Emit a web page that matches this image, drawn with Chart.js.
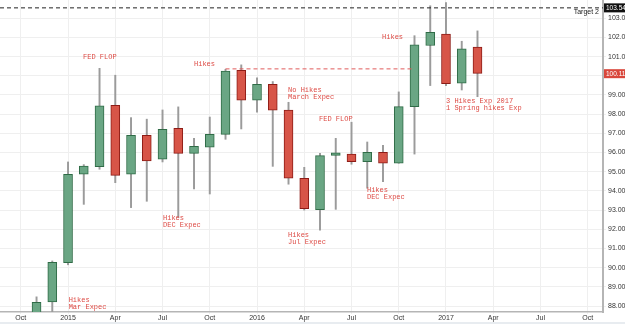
<!DOCTYPE html>
<html>
<head>
<meta charset="utf-8">
<script src="https://cdn.jsdelivr.net/npm/chart.js@4/dist/chart.umd.min.js"></script>
<style>
html,body{margin:0;padding:0;background:#fff;}
#wrap{width:625px;height:324px;position:relative;}
</style>
</head>
<body>
<div id="wrap"><canvas id="c" width="625" height="324"></canvas></div>
<script>
// ---- data (monthly candles, US Dollar Index) ----
const months = ['2014-11','2014-12','2015-01','2015-02','2015-03','2015-04','2015-05','2015-06','2015-07','2015-08','2015-09','2015-10','2015-11','2015-12','2016-01','2016-02','2016-03','2016-04','2016-05','2016-06','2016-07','2016-08','2016-09','2016-10','2016-11','2016-12','2017-01','2017-02','2017-03'];
const opens  = [87.20, 88.21, 90.26, 94.87, 95.26, 98.46, 94.87, 96.90, 95.65, 97.26, 95.96, 96.28, 96.95, 100.29, 98.73, 99.56, 98.21, 94.66, 93.02, 95.85, 95.92, 95.52, 96.01, 95.44, 98.39, 101.58, 102.18, 99.61, 101.49];
const highs  = [88.48, 90.35, 95.51, 95.37, 100.39, 100.03, 97.82, 97.74, 98.22, 98.38, 96.74, 97.85, 100.34, 100.57, 99.90, 99.70, 98.62, 95.23, 95.96, 96.74, 97.58, 96.55, 96.38, 99.16, 102.09, 103.65, 103.82, 101.80, 102.34];
const lows   = [86.90, 87.60, 90.15, 93.30, 95.13, 94.43, 93.13, 93.46, 95.51, 92.62, 94.10, 93.84, 96.69, 97.23, 98.10, 95.28, 94.35, 93.00, 91.96, 93.04, 95.39, 94.14, 94.48, 95.44, 95.92, 99.49, 99.49, 99.26, 98.91];
const closes = [88.19, 90.28, 94.87, 95.30, 98.43, 94.81, 96.90, 95.56, 97.21, 95.96, 96.33, 96.95, 100.25, 98.73, 99.56, 98.21, 94.66, 93.07, 95.84, 95.99, 95.52, 96.01, 95.44, 98.39, 101.61, 102.27, 99.59, 101.40, 100.13];

const yTicks = [88,89,90,91,92,93,94,95,96,97,98,99,100,101,102,103];
const xTickMonths = ['2014-10','2015-01','2015-04','2015-07','2015-10','2016-01','2016-04','2016-07','2016-10','2017-01','2017-04','2017-07','2017-10'];
const xTickLabels = ['Oct','2015','Apr','Jul','Oct','2016','Apr','Jul','Oct','2017','Apr','Jul','Oct'];

const targetLevel = 103.54;
const targetName = 'Target 2';
const lastPrice = 100.11;
const hikesLevel = 100.36;
const hikesFrom = '2015-11';
const hikesTo = '2016-10';

// annotations: text lines anchored at (month, value)
const notes = [
  {lines:['FED FLOP'], at:'2015-01', dm:0.95, v:100.98},
  {lines:['Hikes'], at:'2015-09', dm:0.0, v:100.62},
  {lines:['No Hikes','March Expec'], at:'2016-03', dm:-0.03, v:99.26},
  {lines:['FED FLOP'], at:'2016-05', dm:-0.06, v:97.75},
  {lines:['Hikes','DEC Expec'], at:'2015-07', dm:0.03, v:92.59},
  {lines:['Hikes','Jul Expec'], at:'2016-03', dm:-0.03, v:91.70},
  {lines:['Hikes','DEC Expec'], at:'2016-08', dm:-0.02, v:94.05},
  {lines:['Hikes'], at:'2016-09', dm:-0.06, v:102.03},
  {lines:['3 Hikes Exp 2017','1 Spring hikes Exp'], at:'2017-01', dm:0.0, v:98.69},
  {lines:['Hikes','Mar Expec'], at:'2015-01', dm:0.04, v:88.30}
];

// ---- helpers ----
function mIdx(s){ const p = s.split('-'); return (parseInt(p[0])-2015)*12 + (parseInt(p[1])-1); }
const xs = months.map(mIdx);
const xTickVals = xTickMonths.map(mIdx);

const GREEN = '#6aa684', GREEN_B = '#2f6b46', RED = '#d75548', RED_B = '#8d1c16';
const isUp = closes.map((c,i)=> c >= opens[i]);

const wickData = xs.map((x,i)=>({x:x, y:[lows[i], highs[i]]}));
const bodyData = xs.map((x,i)=>({x:x, y:[opens[i], closes[i]]}));

const X_MIN = -4.32, X_MAX = 33.97;

const overlayPlugin = {
  id:'overlay',
  afterDatasetsDraw(chart){
    const ctx = chart.ctx, xS = chart.scales.x, yS = chart.scales.y, ca = chart.chartArea;
    ctx.save();
    ctx.fillStyle = '#dd4a44';
    ctx.font = '7px "Liberation Mono", "Courier New", monospace';
    ctx.textBaseline = 'middle';
    ctx.textAlign = 'left';
    notes.forEach(n=>{
      const px = xS.getPixelForValue(mIdx(n.at)+n.dm);
      const py = yS.getPixelForValue(n.v);
      n.lines.forEach((t,k)=> ctx.fillText(t, px, py + k*7));
    });
    const ty = yS.getPixelForValue(targetLevel);
    ctx.fillStyle = '#222';
    ctx.font = '7px "Liberation Sans", Arial, sans-serif';
    ctx.textAlign = 'right';
    ctx.fillText(targetName, ca.right - 4, ty + 4);
    ctx.restore();
  },
  afterDraw(chart){
    const ctx = chart.ctx, yS = chart.scales.y, ca = chart.chartArea;
    ctx.save();
    ctx.font = '6.5px "Liberation Sans", Arial, sans-serif';
    ctx.textBaseline = 'middle';
    ctx.textAlign = 'left';
    const boxes = [[targetLevel,'#111111'],[lastPrice,'#d9473c']];
    boxes.forEach(b=>{
      const y = yS.getPixelForValue(b[0]);
      ctx.fillStyle = b[1];
      ctx.fillRect(ca.right + 1, y - 4.5, 625 - ca.right - 1, 9);
      ctx.fillStyle = '#fff';
      ctx.fillText(b[0].toFixed(2), ca.right + 3, y + 0.5);
    });
    ctx.fillStyle = '#e8ecf0';
    ctx.fillRect(0, 322, 625, 2);
    ctx.restore();
  }
};

new Chart(document.getElementById('c'), {
  type:'bar',
  data:{
    datasets:[
      {type:'line', label:'target', data:[{x:X_MIN,y:targetLevel},{x:X_MAX,y:targetLevel}],
       borderColor:'#222', borderWidth:1, borderDash:[4,3], pointRadius:0, order:0},
      {type:'line', label:'hikes', data:[{x:mIdx(hikesFrom),y:hikesLevel},{x:mIdx(hikesTo)+0.85,y:hikesLevel}],
       borderColor:'#e05a5a', borderWidth:1, borderDash:[4,3], pointRadius:0, order:0},
      {label:'body', data:bodyData, barThickness:9, grouped:false,
       backgroundColor: isUp.map(u=>u?GREEN:RED), borderColor: isUp.map(u=>u?GREEN_B:RED_B),
       borderWidth:1, borderSkipped:false, order:1},
      {label:'wick', data:wickData, barThickness:1.3, grouped:false,
       backgroundColor:'#9b9b9b', borderWidth:0, order:2}
    ]
  },
  options:{
    responsive:false, animation:false,
    layout:{padding:0},
    plugins:{legend:{display:false}, tooltip:{enabled:false}},
    scales:{
      x:{type:'linear', min:X_MIN, max:X_MAX, offset:false,
         grid:{color:'#efefef', offset:false, tickLength:2, drawTicks:true},
         border:{color:'#b5b5b5', width:1.5},
         afterBuildTicks(s){ s.ticks = xTickVals.map(v=>({value:v})); },
         afterFit(s){ s.height = 12; s.paddingLeft = 0; s.paddingRight = 0; },
         ticks:{autoSkip:false, maxRotation:0, padding:0, color:'#333',
                font:{family:'"Liberation Sans", Arial, sans-serif', size:7},
                callback(v){ const i = xTickVals.indexOf(v); return i>=0 ? xTickLabels[i] : ''; }}
      },
      y:{type:'linear', position:'right', min:87.69, max:103.95,
         grid:{color:'#efefef', tickLength:3},
         border:{color:'#b5b5b5', width:2},
         afterBuildTicks(s){ s.ticks = yTicks.map(v=>({value:v})); },
         afterFit(s){ s.width = 22; s.paddingTop = 0; s.paddingBottom = 0; },
         ticks:{padding:2, color:'#333',
                font:{family:'"Liberation Sans", Arial, sans-serif', size:7},
                callback(v){ return Number(v).toFixed(2); }}
      }
    }
  },
  plugins:[overlayPlugin]
});
</script>
</body>
</html>
